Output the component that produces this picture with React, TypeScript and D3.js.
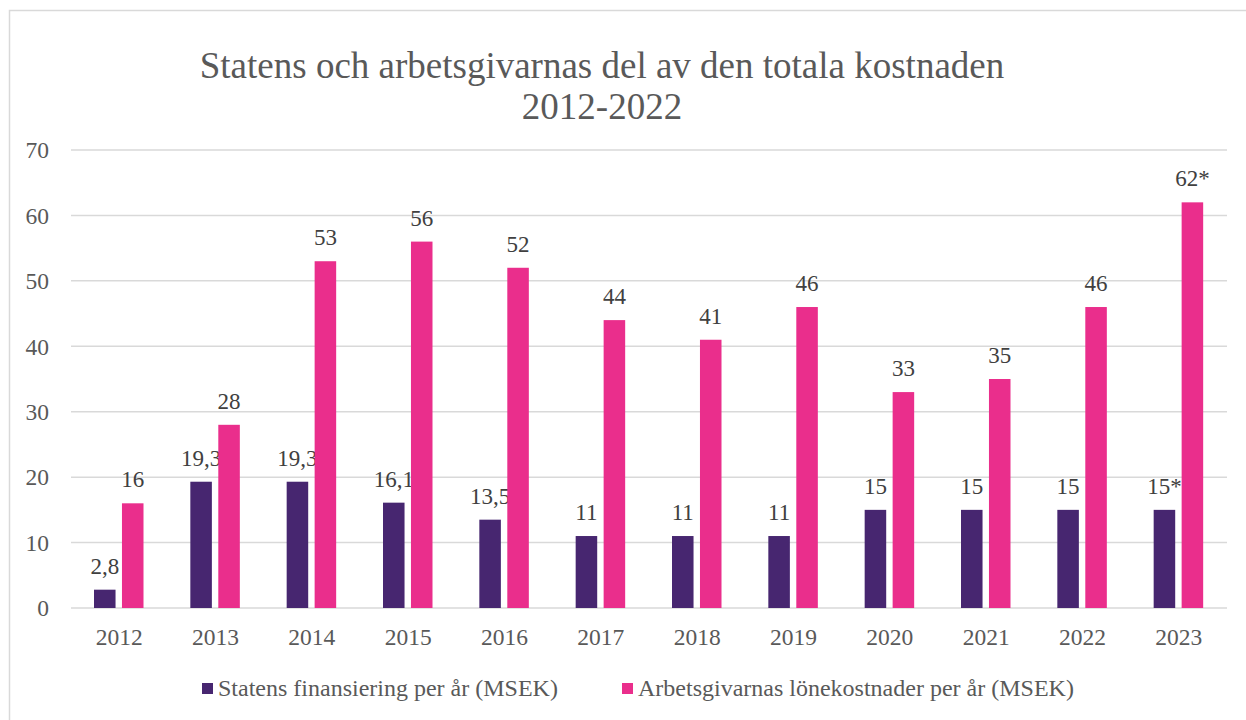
import React from "react";
import * as d3 from "d3";

const years = ["2012","2013","2014","2015","2016","2017","2018","2019","2020","2021","2022","2023"];
const statens = [2.8, 19.3, 19.3, 16.1, 13.5, 11, 11, 11, 15, 15, 15, 15];
const statensLabels = ["2,8","19,3","19,3","16,1","13,5","11","11","11","15","15","15","15*"];
const arbets = [16, 28, 53, 56, 52, 44, 41, 46, 33, 35, 46, 62];
const arbetsLabels = ["16","28","53","56","52","44","41","46","33","35","46","62*"];
const yTicks = [0, 10, 20, 30, 40, 50, 60, 70];
const seriesNames = ["Statens finansiering per år (MSEK)", "Arbetsgivarnas lönekostnader per år (MSEK)"];
const colors = ["#472670", "#EA2E8C"];

const W = 1246, H = 720;
const FONT = "Liberation Serif, Times New Roman, Tinos, serif";

export default function App() {
  const x = d3.scaleBand<string>().domain(years).range([71, 1227]).padding(0);
  const x1 = d3.scaleBand<number>().domain([0, 1]).range([23, 72.5]).paddingInner(0.23);
  const y = d3.scaleLinear().domain([0, 70]).range([608, 150]);

  const series = [
    { values: statens, labels: statensLabels, color: colors[0], idx: 0 },
    { values: arbets, labels: arbetsLabels, color: colors[1], idx: 1 },
  ];

  return (
    <svg width={W} height={H} style={{ position: "absolute", left: 0, top: 0, background: "#fff", fontFamily: FONT }}>
      <rect x={0} y={0} width={W} height={H} fill="#fff" />
      <rect x={9.5} y={10.5} width={1300} height={800} fill="#fff" stroke="#d9d9d9" strokeWidth={1.5} />
      <text x={602} y={78} textAnchor="middle" fontSize={37} fill="#595959">Statens och arbetsgivarnas del av den totala kostnaden</text>
      <text x={602} y={119} textAnchor="middle" fontSize={37} fill="#595959">2012-2022</text>
      {yTicks.map((t) => (
        <g key={t}>
          <line x1={71} x2={1227} y1={y(t)} y2={y(t)} stroke="#d9d9d9" strokeWidth={1.5} />
          <text x={49} y={y(t)} dy="0.35em" textAnchor="end" fontSize={23.5} fill="#595959">{t}</text>
        </g>
      ))}
      {years.map((yr) => (
        <text key={yr} x={x(yr)! + x.bandwidth() / 2} y={645} textAnchor="middle" fontSize={23.5} fill="#595959">{yr}</text>
      ))}
      {series.map((s) => (
        <g key={s.idx}>
          {years.map((yr, i) => (
            <rect key={yr} x={x(yr)! + x1(s.idx)!} y={y(s.values[i])} width={x1.bandwidth()} height={y(0) - y(s.values[i])} fill={s.color} />
          ))}
          {years.map((yr, i) => (
            <text key={"l" + yr} x={x(yr)! + x1(s.idx)! + x1.bandwidth() / 2} y={y(s.values[i]) - 16} textAnchor="middle" fontSize={23} fill="#404040">{s.labels[i]}</text>
          ))}
        </g>
      ))}
      <rect x={202} y={683} width={11} height={11} fill={colors[0]} />
      <text x={218} y={696} fontSize={24} fill="#595959">{seriesNames[0]}</text>
      <rect x={622} y={683} width={11} height={11} fill={colors[1]} />
      <text x={638} y={696} fontSize={24} fill="#595959">{seriesNames[1]}</text>
    </svg>
  );
}
